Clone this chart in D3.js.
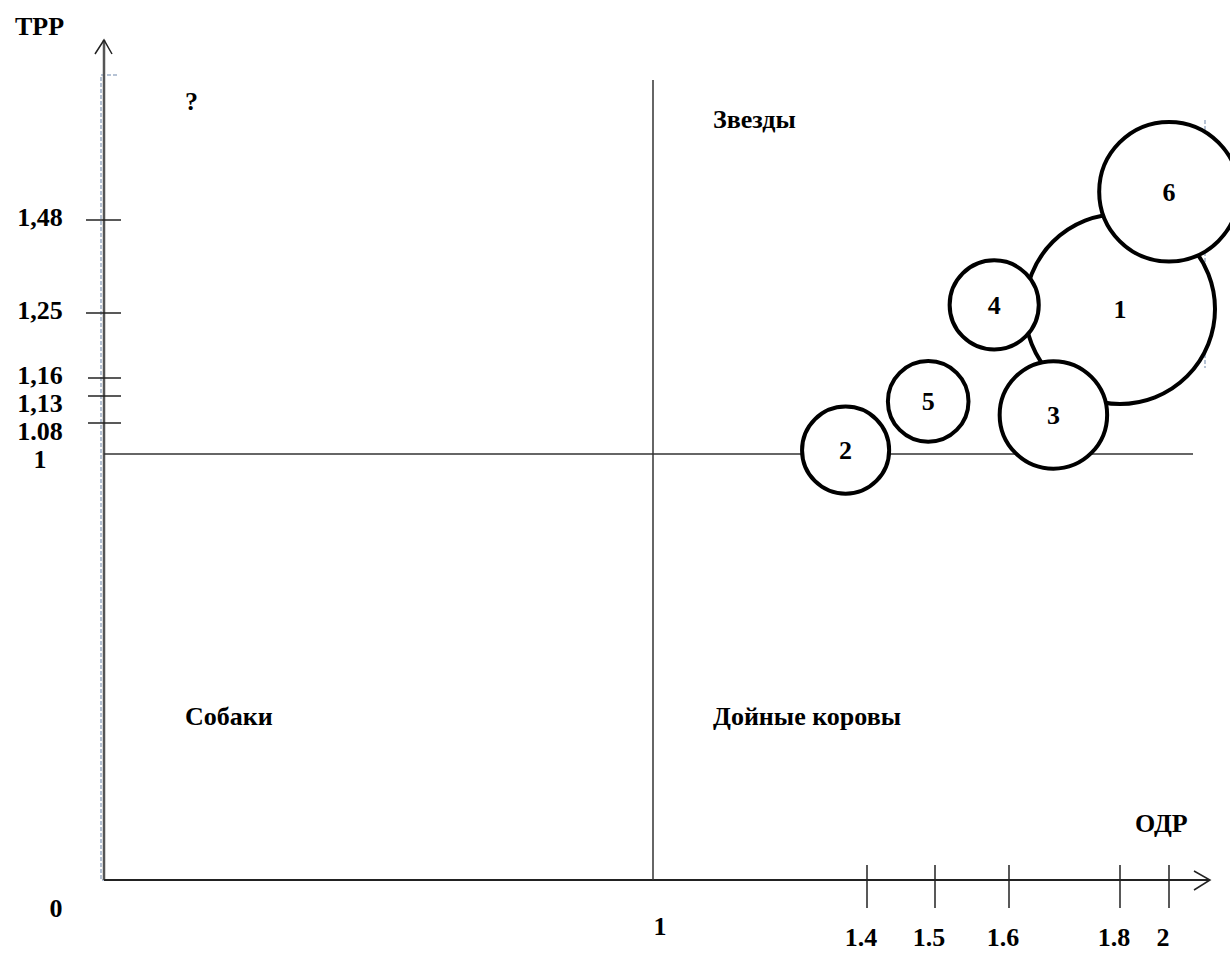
<!DOCTYPE html>
<html>
<head>
<meta charset="utf-8">
<script src="https://cdn.jsdelivr.net/npm/d3@7"></script>
<style>
    body { margin: 0; background: #fff; }
    svg text {
        font-family: "Liberation Serif", "Times New Roman", serif;
        font-weight: bold;
        font-size: 26px;
        fill: #000;
    }
</style>
</head>
<body>
<div id="chart"></div>
<script>
// Axis breakpoints (the hand-drawn axes are not linear, so the scales are piecewise)
const odrBreaks = [0, 1, 1.4, 1.5, 1.6, 1.8, 2];
const tprBreaks = [0, 1, 1.08, 1.13, 1.16, 1.25, 1.48];

// Tick labels
const odrTicks = [1.4, 1.5, 1.6, 1.8, 2];
const odrTickLabels = ['1.4', '1.5', '1.6', '1.8', '2'];
const tprTicks = [1.48, 1.25, 1.16, 1.13, 1.08, 1];
const tprTickLabels = ['1,48', '1,25', '1,16', '1,13', '1.08', '1'];

// Business units
const units = ['1', '2', '3', '4', '5', '6'];
const odrValues = [1.8, 1.36, 1.68, 1.58, 1.49, 2.0];
const tprValues = [1.26, 1.01, 1.095, 1.27, 1.12, 1.55];
const shareValues = [100, 21, 32, 22, 18, 54];

const quadrants = ['?', 'Звезды', 'Собаки', 'Дойные коровы'];

const W = 1230, H = 953;
const x0 = 104, x1 = 1210;   // horizontal axis extent
const y0 = 880, y1 = 40;     // vertical axis extent

const xScale = d3.scaleLinear()
    .domain(odrBreaks)
    .range([x0, 653, 867, 935, 1009, 1120, 1169]);

const yScale = d3.scaleLinear()
    .domain(tprBreaks)
    .range([y0, 454, 423, 396, 378, 313, 220]);

const rScale = d3.scaleSqrt()
    .domain([0, d3.max(shareValues)])
    .range([0, 95]);

const svg = d3.select('#chart')
    .append('svg')
    .attr('width', W)
    .attr('height', H);

// dashed frame left over from the original drawing
const frame = svg.append('g')
    .style('fill', 'none')
    .style('stroke', '#9fb0c8')
    .style('stroke-width', 1.5)
    .style('stroke-dasharray', '4,2');

frame.append('path')
    .attr('d', `M117,75 H101 V${y0} H1205`);
frame.append('line')
    .attr('x1', 1205).attr('x2', 1205)
    .attr('y1', 120).attr('y2', 368);

// axes with open arrow heads
const axes = svg.append('g')
    .style('fill', 'none')
    .style('stroke', '#555')
    .style('stroke-width', 2.5);

axes.append('line')
    .attr('x1', x0).attr('x2', x0)
    .attr('y1', y0).attr('y2', y1);
axes.append('path')
    .attr('d', `M${x0 - 9},${y1 + 14} L${x0},${y1} L${x0 + 8},${y1 + 14}`)
    .style('stroke', '#222')
    .style('stroke-width', 1.5);

axes.append('line')
    .attr('x1', x0).attr('x2', x1)
    .attr('y1', y0).attr('y2', y0)
    .style('stroke', '#222')
    .style('stroke-width', 2);
axes.append('path')
    .attr('d', `M${x1 - 16},${y0 - 9} L${x1},${y0} L${x1 - 16},${y0 + 10}`)
    .style('stroke', '#222')
    .style('stroke-width', 1.5);

// quadrant dividers at ODR = 1 and TPR = 1
svg.append('line')
    .attr('x1', xScale(1)).attr('x2', xScale(1))
    .attr('y1', 80).attr('y2', y0)
    .style('stroke', '#333')
    .style('stroke-width', 1.5);

svg.append('line')
    .attr('x1', x0).attr('x2', 1193)
    .attr('y1', yScale(1)).attr('y2', yScale(1))
    .style('stroke', '#333')
    .style('stroke-width', 1.5);

// y ticks
svg.selectAll('.y-tick')
    .data(tprTicks.filter(d => d !== 1))
    .enter()
    .append('line')
    .attr('class', 'y-tick')
    .attr('x1', (d, i) => i < 2 ? 86 : 88)
    .attr('x2', 121)
    .attr('y1', d => yScale(d))
    .attr('y2', d => yScale(d))
    .style('stroke', '#222')
    .style('stroke-width', 1.5);

// labels of the crowded ticks are pushed down so they do not collide
const minGap = 28;
let lastY = -Infinity;
const labelY = tprTicks.map(d => {
    lastY = Math.max(yScale(d) + 6, lastY + minGap);
    return lastY;
});

svg.selectAll('.y-label')
    .data(tprTicks)
    .enter()
    .append('text')
    .attr('class', 'y-label')
    .attr('x', 40)
    .attr('y', (d, i) => labelY[i])
    .attr('text-anchor', 'middle')
    .text((d, i) => tprTickLabels[i]);

// x ticks
svg.selectAll('.x-tick')
    .data(odrTicks)
    .enter()
    .append('line')
    .attr('class', 'x-tick')
    .attr('x1', d => xScale(d))
    .attr('x2', d => xScale(d))
    .attr('y1', y0 - 15)
    .attr('y2', y0 + 28)
    .style('stroke', '#222')
    .style('stroke-width', 1.5);

svg.selectAll('.x-label')
    .data(odrTicks)
    .enter()
    .append('text')
    .attr('class', 'x-label')
    .attr('x', d => xScale(d) - 6)
    .attr('y', 946)
    .attr('text-anchor', 'middle')
    .text((d, i) => odrTickLabels[i]);

svg.append('text')
    .attr('x', xScale(1) + 7)
    .attr('y', 935)
    .attr('text-anchor', 'middle')
    .text('1');

svg.append('text')
    .attr('x', 56)
    .attr('y', 917)
    .attr('text-anchor', 'middle')
    .text('0');

// axis titles
svg.append('text').attr('x', 15).attr('y', 35).text('ТРР');
svg.append('text').attr('x', 1135).attr('y', 832).text('ОДР');

// quadrant names
const qx = [185, xScale(1) + 60, 185, xScale(1) + 60];
const qy = [110, 128, 725, 725];
svg.selectAll('.quadrant')
    .data(quadrants)
    .enter()
    .append('text')
    .attr('class', 'quadrant')
    .attr('x', (d, i) => qx[i])
    .attr('y', (d, i) => qy[i])
    .text(d => d);

// bubbles, the biggest first so the others sit on top of it
const bubbles = units.map((u, i) => ({
    name: u,
    odr: odrValues[i],
    tpr: tprValues[i],
    share: shareValues[i]
})).sort((a, b) => b.share === 100 ? 1 : a.share === 100 ? -1 : 0);

const bubble = svg.selectAll('.bubble')
    .data(bubbles)
    .enter()
    .append('g')
    .attr('class', 'bubble')
    .attr('transform', d => `translate(${xScale(d.odr)},${yScale(d.tpr)})`);

bubble.append('circle')
    .attr('r', d => rScale(d.share))
    .style('fill', '#fff')
    .style('stroke', '#000')
    .style('stroke-width', 4);

bubble.append('text')
    .attr('y', 9)
    .attr('text-anchor', 'middle')
    .text(d => d.name);
</script>
</body>
</html>
